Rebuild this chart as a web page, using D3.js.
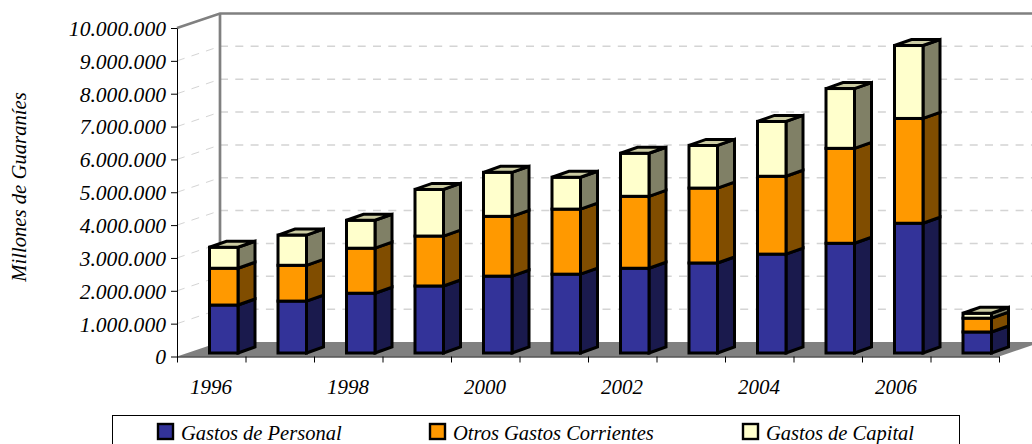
<!DOCTYPE html>
<html>
<head>
<meta charset="utf-8">
<script src="https://cdn.jsdelivr.net/npm/d3@7"></script>
<style>
  html, body { margin: 0; padding: 0; background: #fff; overflow: hidden; }
  text { font-family: "Liberation Serif", serif; font-style: italic; fill: #000; }
</style>
</head>
<body>
<div id="chart"></div>
<script>
const years = ['1996', '1997', '1998', '1999', '2000', '2001', '2002', '2003', '2004', '2005', '2006', '2007']
const gastosPersonal = [1460000, 1580000, 1820000, 2040000, 2340000, 2400000, 2580000, 2740000, 3010000, 3340000, 3950000, 640000]
const otrosGastos = [1120000, 1090000, 1370000, 1520000, 1820000, 1980000, 2190000, 2280000, 2370000, 2890000, 3190000, 420000]
const gastosCapital = [640000, 920000, 850000, 1420000, 1340000, 970000, 1310000, 1300000, 1670000, 1820000, 2220000, 150000]
const seriesNames = ['Gastos de Personal', 'Otros Gastos Corrientes', 'Gastos de Capital']
const yTicks = [0, 1e6, 2e6, 3e6, 4e6, 5e6, 6e6, 7e6, 8e6, 9e6, 1e7]

const faceColors = ['#333399', '#FF9900', '#FFFFCC']
const sideColors = ['#1A1A4D', '#804D00', '#808066']
const topColors = ['#28287A', '#CC7A00', '#CCCCA3']

const width = 1032
const height = 444
const plotLeft = 177
const plotRight = 999
const plotTop = 28
const plotBottom = 356.5
const wallDx = 43
const wallDy = -14.5

const rows = years.map((y, i) => ({
  year: y,
  a: gastosPersonal[i],
  b: otrosGastos[i],
  c: gastosCapital[i]
}))
const stacked = d3.stack().keys(['a', 'b', 'c'])(rows)

const svg = d3.select('#chart').append('svg')
  .attr('width', width)
  .attr('height', height)
  .style('display', 'block')

const x = d3.scaleLinear().domain([0, years.length]).range([plotLeft, plotRight])
const y = d3.scaleLinear().domain([0, 1e7]).range([plotBottom, plotTop])

// floor
svg.append('polygon')
  .attr('points', [
    [plotLeft, plotBottom], [plotRight, plotBottom],
    [plotRight + wallDx, plotBottom + wallDy], [plotLeft + wallDx, plotBottom + wallDy]
  ].join(' '))
  .attr('fill', '#808080')

// gridlines on back wall and side wall
const grid = svg.append('g')
yTicks.slice(1, -1).forEach(t => {
  grid.append('line')
    .attr('x1', plotLeft + wallDx).attr('x2', plotRight + wallDx)
    .attr('y1', y(t) + wallDy).attr('y2', y(t) + wallDy)
    .attr('stroke', '#d4d4d4').attr('stroke-width', 1.5)
    .attr('stroke-dasharray', '8 7.3')
  grid.append('line')
    .attr('x1', plotLeft).attr('x2', plotLeft + wallDx)
    .attr('y1', y(t)).attr('y2', y(t) + wallDy)
    .attr('stroke', '#d4d4d4').attr('stroke-width', 1)
    .attr('stroke-dasharray', '8 7.3')
})

// wall frame
svg.append('path')
  .attr('d', d3.line()([
    [plotLeft, y(1e7)], [plotLeft + wallDx, y(1e7) + wallDy], [plotRight + wallDx, y(1e7) + wallDy]
  ]))
  .attr('fill', 'none').attr('stroke', '#808080').attr('stroke-width', 2.7)
svg.append('line')
  .attr('x1', plotLeft + wallDx).attr('x2', plotLeft + wallDx)
  .attr('y1', y(1e7) + wallDy).attr('y2', y(0) + wallDy)
  .attr('stroke', '#808080').attr('stroke-width', 2.7)

// bars
const barWidth = 28.5
const frontDx = 12.5
const frontDy = -3.5
const depthDx = 17
const depthDy = -6
const gBars = svg.append('g')
  .attr('stroke', '#000').attr('stroke-width', 3).attr('stroke-linejoin', 'miter')

years.forEach((yr, i) => {
  const x0 = x(i) + (x(1) - x(0) - barWidth) / 2 + frontDx
  const x1 = x0 + barWidth
  stacked.forEach((s, k) => {
    const yb = y(s[i][0]) + frontDy
    const yt = y(s[i][1]) + frontDy
    const g = gBars.append('g')
    g.append('polygon')
      .attr('points', [[x1, yb], [x1 + depthDx, yb + depthDy], [x1 + depthDx, yt + depthDy], [x1, yt]].join(' '))
      .attr('fill', sideColors[k])
    g.append('rect')
      .attr('x', x0).attr('y', yt)
      .attr('width', barWidth).attr('height', yb - yt)
      .attr('fill', faceColors[k])
    if (k === stacked.length - 1) {
      g.append('polygon')
        .attr('points', [[x0, yt], [x1, yt], [x1 + depthDx, yt + depthDy], [x0 + depthDx, yt + depthDy]].join(' '))
        .attr('fill', topColors[k])
    }
  })
})

// axes
const fmt = d => d3.format(',')(d).replace(/,/g, '.')
const yAxis = d3.axisLeft(y).tickValues(yTicks).tickFormat(fmt).tickSize(6).tickSizeOuter(0).tickPadding(5)
const gY = svg.append('g').attr('transform', `translate(${plotLeft},0)`).call(yAxis)
gY.selectAll('.tick text').attr('font-size', 21.6).attr('dy', '0.34em')
gY.selectAll('.tick line').attr('stroke', '#000')
gY.select('.domain').attr('stroke', '#000')

const xAxis = d3.axisBottom(x).tickValues(d3.range(0, years.length + 1)).tickFormat('').tickSize(6).tickSizeOuter(0)
const gX = svg.append('g').attr('transform', `translate(0,${plotBottom})`).call(xAxis)
gX.selectAll('.tick line').attr('stroke', '#000')
gX.select('.domain').attr('stroke', '#000')

svg.append('g').selectAll('text')
  .data(years.filter((d, i) => i % 2 === 0 && i < 11))
  .enter()
  .append('text')
  .attr('x', d => x(years.indexOf(d)) + 34)
  .attr('y', 394)
  .attr('font-size', 21)
  .attr('text-anchor', 'middle')
  .text(d => d)

// y title
svg.append('text')
  .attr('transform', 'translate(26,187) rotate(-90)')
  .attr('font-size', 20.7)
  .attr('text-anchor', 'middle')
  .text('Millones de Guaraníes')

// legend
svg.append('rect')
  .attr('x', 112.5).attr('y', 415.5)
  .attr('width', 847).attr('height', 40)
  .attr('fill', '#fff').attr('stroke', '#000').attr('stroke-width', 1)

const legendX = [158, 430, 743]
const legend = svg.append('g').selectAll('g')
  .data(seriesNames)
  .enter()
  .append('g')
  .attr('transform', (d, i) => `translate(${legendX[i]},424)`)
legend.append('rect')
  .attr('width', 15).attr('height', 15)
  .attr('fill', (d, i) => faceColors[i])
  .attr('stroke', '#000').attr('stroke-width', 2.4)
legend.append('text')
  .attr('x', 23).attr('y', 15.5)
  .attr('font-size', 20.5)
  .text(d => d)
</script>
</body>
</html>
